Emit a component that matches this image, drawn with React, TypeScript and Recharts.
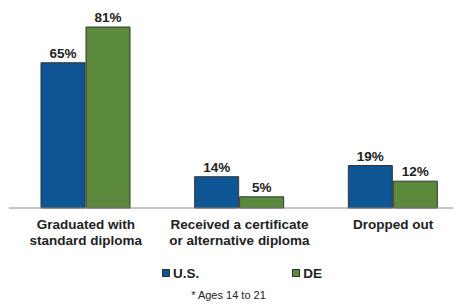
import { BarChart, Bar, XAxis, YAxis, LabelList, Legend } from 'recharts';

const categories = [
  ['Graduated with', 'standard diploma'],
  ['Received a certificate', 'or alternative diploma'],
  ['Dropped out'],
];
const usValues = [65, 14, 19];
const deValues = [81, 5, 12];
const seriesNames = ['U.S.', 'DE'];
const footnote = '* Ages 14 to 21';

const BLUE = '#0E5594';
const GREEN = '#5B8A3D';
const FONT = '"Liberation Sans", Arial, sans-serif';

const data = categories.map((lines, i) => ({
  name: lines.join(' '),
  us: usValues[i],
  de: deValues[i],
}));

function CategoryTick({ x, y, index }: any) {
  const lines = categories[index] || [];
  return (
    <text x={x} y={y} textAnchor="middle" fontFamily={FONT} fontSize={13.5} fontWeight="bold" fill="#222">
      {lines.map((l, i) => (
        <tspan key={i} x={x} dy={i === 0 ? 13 : 16}>
          {l}
        </tspan>
      ))}
    </text>
  );
}

function LegendBox() {
  const colors = [BLUE, GREEN];
  return (
    <div style={{ width: 453, height: 36, fontFamily: FONT }}>
      <div style={{ display: 'flex', justifyContent: 'center', gap: 93, paddingLeft: 15, height: 18, alignItems: 'center' }}>
        {seriesNames.map((n, i) => (
          <div key={n} style={{ display: 'flex', alignItems: 'center' }}>
            <span
              style={{
                display: 'inline-block',
                width: 6,
                height: 6,
                background: colors[i],
                border: '1px solid #333',
                marginRight: 3,
              }}
            />
            <span style={{ fontSize: 13.5, fontWeight: 'bold', color: '#222' }}>{n}</span>
          </div>
        ))}
      </div>
      <div style={{ textAlign: 'center', fontSize: 11, color: '#222', marginTop: 7, paddingRight: 12 }}>{footnote}</div>
    </div>
  );
}

export default function App() {
  return (
    <div style={{ width: 453, height: 296, overflow: 'hidden' }}>
      <BarChart width={462} height={296} data={data} margin={{ top: 19, right: 0, bottom: 0, left: 1 }} barSize={44} barGap={1}>
        <XAxis dataKey="name" tick={<CategoryTick />} tickLine={false} axisLine={{ stroke: '#888' }} height={60} interval={0} />
        <YAxis hide domain={[0, 81]} />
        <Legend content={<LegendBox />} verticalAlign="bottom" wrapperStyle={{ top: 256, left: 0, width: 453 }} />
        <Bar dataKey="us" name="U.S." fill={BLUE} stroke="#333" strokeWidth={1} isAnimationActive={false}>
          <LabelList dataKey="us" position="top" offset={5} formatter={(v: any) => `${v}%`} fontFamily={FONT} fontSize={13.5} fontWeight="bold" fill="#222" />
        </Bar>
        <Bar dataKey="de" name="DE" fill={GREEN} stroke="#333" strokeWidth={1} isAnimationActive={false}>
          <LabelList dataKey="de" position="top" offset={5} formatter={(v: any) => `${v}%`} fontFamily={FONT} fontSize={13.5} fontWeight="bold" fill="#222" />
        </Bar>
      </BarChart>
    </div>
  );
}
